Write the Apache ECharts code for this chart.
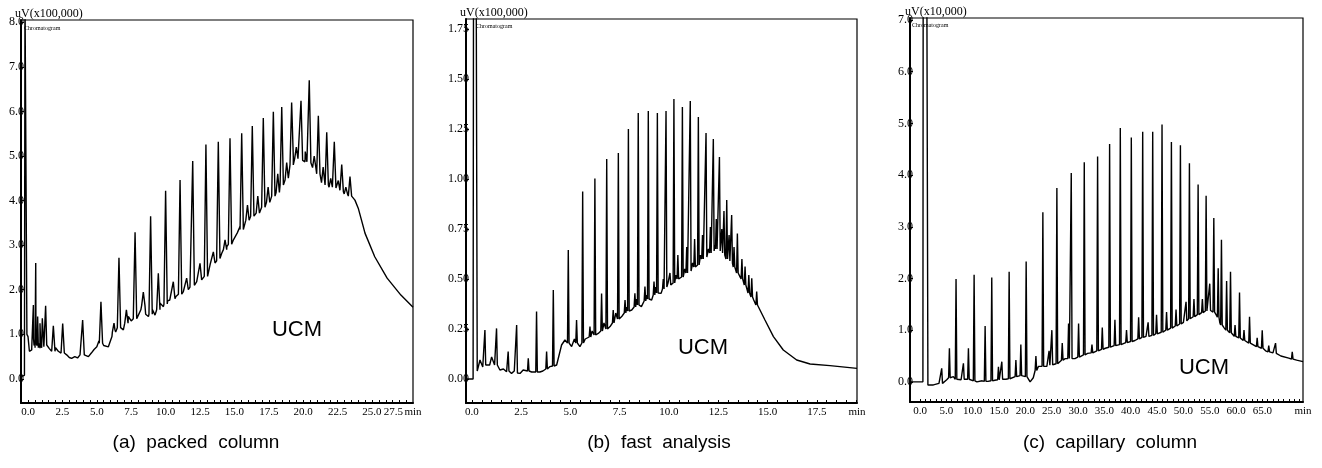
<!DOCTYPE html>
<html>
<head>
<meta charset="utf-8">
<script src="https://cdn.jsdelivr.net/npm/echarts@6/dist/echarts.min.js"></script>
<style>
  html, body { margin: 0; padding: 0; background: #fff; }
  #chromChart { width: 1322px; height: 468px; }
</style>
</head>
<body>
<div id="chromChart"></div>
<script>
// (a) packed column : [min, uV x100,000]
const aBaseline = [
  [-0.51, 0.05], [-0.26, 0.08], [-0.22, 8.6], [-0.12, 8.6], [-0.08, 1.0], [0.0, 0.95], [0.1, 0.62],
  [0.27, 0.65], [0.4, 0.9], [0.51, 0.8], [0.65, 0.75], [0.87, 0.69], [1.0, 0.85], [1.15, 0.72],
  [1.36, 0.76], [1.55, 0.68], [1.84, 0.61], [2.0, 0.7], [2.2, 0.62], [2.5, 0.6], [2.81, 0.54],
  [3.0, 0.48], [3.17, 0.46], [3.4, 0.5], [3.6, 0.47], [3.78, 0.54], [4.2, 0.52], [4.39, 0.5],
  [4.6, 0.58], [4.8, 0.66], [5.0, 0.72], [5.15, 0.85], [5.5, 0.75], [5.84, 0.72], [6.1, 0.95],
  [6.32, 1.1], [6.5, 1.15], [6.8, 1.12], [6.93, 1.1], [7.1, 1.25], [7.29, 1.4], [7.5, 1.3],
  [7.65, 1.35], [8.02, 1.43], [8.2, 1.55], [8.55, 1.45], [8.75, 1.4], [9.05, 1.55], [9.23, 1.43],
  [9.6, 1.7], [9.84, 1.62], [10.15, 1.75], [10.3, 1.77], [10.75, 1.85], [11.29, 1.96], [11.77, 2.06],
  [12.26, 2.18], [12.74, 2.26], [13.23, 2.56], [13.71, 2.65], [14.08, 2.82], [14.45, 2.97],
  [14.93, 3.12], [15.2, 3.27], [15.4, 3.41], [15.9, 3.56], [16.62, 3.71], [17.35, 3.94], [18.07, 4.16],
  [18.68, 4.46], [19.0, 4.7], [19.28, 4.98], [19.65, 4.91], [20.13, 4.87], [20.74, 4.76], [21.34, 4.42],
  [21.95, 4.31], [22.43, 4.24], [23.04, 4.16], [23.76, 4.01], [24.0, 3.83], [24.37, 3.41], [24.49, 3.27],
  [25.2, 2.74], [26.1, 2.26], [27.1, 1.88], [27.98, 1.61],
];
// [time, top, foot]
const aPeaks = [
  [0.39, 1.66, 0.7], [0.56, 2.6, 0.75], [0.7, 1.4, 0.8], [0.87, 1.25, 0.7], [1.04, 1.36, 0.78],
  [1.28, 1.64, 0.74], [1.84, 1.19, 0.62], [2.52, 1.24, 0.58], [3.97, 1.32, 0.54], [5.3, 1.73, 0.8],
  [6.25, 1.25, 1.05], [6.61, 2.72, 1.15], [7.15, 1.55, 1.25], [7.78, 3.29, 1.35], [8.38, 1.95, 1.65],
  [8.91, 3.65, 1.45], [9.47, 2.37, 1.55], [10.0, 4.22, 1.68], [10.56, 2.18, 1.8], [11.05, 4.46, 1.9],
  [11.53, 2.26, 2.0], [11.97, 4.89, 2.1], [12.5, 2.59, 2.22], [12.93, 5.26, 2.3], [13.47, 2.85, 2.6],
  [13.83, 5.32, 2.7], [14.32, 3.12, 2.9], [14.68, 5.4, 3.02], [15.53, 5.51, 3.35], [15.95, 3.9, 3.56],
  [16.3, 5.67, 3.65], [16.7, 4.1, 3.72], [17.1, 5.85, 3.85], [17.45, 4.3, 3.96], [17.83, 5.99, 4.1],
  [18.15, 4.6, 4.18], [18.44, 6.1, 4.35], [18.8, 4.85, 4.5], [19.16, 6.2, 4.8], [19.5, 5.2, 4.94],
  [19.84, 6.24, 4.9], [20.15, 5.1, 4.87], [20.44, 6.7, 4.85], [20.8, 5.0, 4.74], [21.1, 5.9, 4.6],
  [21.45, 4.75, 4.4], [21.71, 5.53, 4.35], [22.0, 4.5, 4.3], [22.26, 5.32, 4.28], [22.55, 4.45, 4.23],
  [22.8, 4.81, 4.2], [23.1, 4.3, 4.15], [23.4, 4.54, 4.1],
];

// (b) fast analysis
const bBaseline = [
  [-0.3, 0.0], [0.06, 0.0], [0.08, 1.9], [0.22, 1.9], [0.27, 0.04], [0.41, 0.095], [0.55, 0.06],
  [0.74, 0.078], [0.9, 0.07], [1.0, 0.11], [1.15, 0.07], [1.42, 0.045], [1.6, 0.05], [1.76, 0.036],
  [2.01, 0.028], [2.15, 0.04], [2.44, 0.028], [2.6, 0.045], [3.03, 0.035], [3.45, 0.035], [3.6, 0.04],
  [3.96, 0.062], [4.3, 0.07], [4.55, 0.17], [4.72, 0.195], [5.06, 0.162], [5.2, 0.2], [5.48, 0.162],
  [5.75, 0.2], [6.1, 0.24], [6.41, 0.228], [6.7, 0.28], [7.01, 0.262], [7.3, 0.33], [7.6, 0.312],
  [7.85, 0.36], [8.11, 0.345], [8.35, 0.4], [8.6, 0.362], [8.87, 0.42], [9.12, 0.395], [9.32, 0.46],
  [9.6, 0.428], [9.95, 0.48], [10.15, 0.462], [10.35, 0.52], [10.55, 0.495], [10.8, 0.55], [10.98, 0.528],
  [11.2, 0.58], [11.4, 0.562], [11.6, 0.62], [11.8, 0.595], [12.0, 0.65], [12.18, 0.628], [12.33, 0.67],
  [12.48, 0.653], [12.62, 0.645], [12.86, 0.62], [13.0, 0.61], [13.12, 0.6], [13.25, 0.578], [13.4, 0.56],
  [13.6, 0.512], [13.78, 0.49], [13.95, 0.462], [14.12, 0.43], [14.3, 0.395], [14.54, 0.362],
  [14.87, 0.295], [15.3, 0.212], [15.8, 0.145], [16.48, 0.095], [17.16, 0.075], [18.17, 0.067],
  [19.54, 0.053],
];
const bPeaks = [
  [0.66, 0.245, 0.07], [1.25, 0.253, 0.07], [1.84, 0.137, 0.04], [2.27, 0.27, 0.03], [2.86, 0.103, 0.04],
  [3.28, 0.337, 0.035], [3.79, 0.137, 0.05], [4.13, 0.445, 0.065], [4.89, 0.645, 0.18], [5.31, 0.295, 0.18],
  [5.62, 0.937, 0.18], [5.99, 0.262, 0.21], [6.24, 1.003, 0.22], [6.58, 0.428, 0.24], [6.84, 1.1, 0.25],
  [7.17, 0.345, 0.28], [7.43, 1.13, 0.3], [7.77, 0.395, 0.33], [7.94, 1.25, 0.34], [8.27, 0.428, 0.36],
  [8.44, 1.33, 0.37], [8.78, 0.462, 0.39], [8.95, 1.34, 0.4], [9.24, 0.487, 0.42], [9.41, 1.33, 0.43],
  [9.71, 0.5, 0.45], [9.85, 1.34, 0.46], [10.05, 0.53, 0.47], [10.25, 1.4, 0.48], [10.45, 0.62, 0.5],
  [10.68, 1.36, 0.51], [10.9, 0.66, 0.53], [11.08, 1.39, 0.54], [11.3, 0.7, 0.56], [11.49, 1.31, 0.57],
  [11.7, 0.72, 0.6], [11.88, 1.23, 0.61], [12.1, 0.76, 0.63], [12.25, 1.2, 0.64], [12.4, 0.8, 0.65],
  [12.56, 1.11, 0.64], [12.68, 0.75, 0.63], [12.79, 0.84, 0.62], [12.93, 0.895, 0.6], [13.05, 0.72, 0.59],
  [13.18, 0.82, 0.58], [13.3, 0.66, 0.56], [13.47, 0.728, 0.53], [13.7, 0.6, 0.5], [13.86, 0.562, 0.47],
  [14.05, 0.52, 0.43], [14.2, 0.503, 0.41], [14.45, 0.437, 0.37],
];

// (c) capillary column : [min, uV x10,000]
const cBaseline = [
  [-1.9, 0.0], [0.55, 0.0], [0.6, 7.6], [1.3, 7.6], [1.5, -0.06], [2.54, -0.06], [3.6, -0.03],
  [4.6, -0.02], [5.07, 0.04], [5.9, 0.1], [6.34, 0.1], [7.29, 0.02], [7.8, 0.04], [8.7, 0.06],
  [9.6, 0.05], [10.8, 0.0], [11.8, 0.02], [12.9, 0.01], [14.2, 0.03], [15.1, 0.06], [16.3, 0.05],
  [17.4, 0.07], [18.7, 0.1], [19.6, 0.15], [20.9, 0.0], [21.5, 0.08], [22.5, 0.3], [24.08, 0.3],
  [25.5, 0.35], [26.5, 0.38], [27.57, 0.45], [29.4, 0.45], [30.6, 0.5], [31.8, 0.55], [33.0, 0.57],
  [34.2, 0.62], [35.17, 0.65], [36.5, 0.68], [37.5, 0.72], [38.6, 0.74], [39.6, 0.77], [40.8, 0.8],
  [41.8, 0.85], [42.9, 0.88], [43.7, 0.9], [45.4, 0.95], [46.4, 0.99], [47.2, 1.02], [48.2, 1.06],
  [49.0, 1.1], [50.0, 1.15], [51.6, 1.25], [52.4, 1.28], [53.2, 1.32], [54.0, 1.36], [54.8, 1.38],
  [55.4, 1.37], [56.2, 1.3], [56.9, 1.15], [57.7, 1.05], [58.6, 0.97], [59.3, 0.92], [60.2, 0.86],
  [61.1, 0.82], [62.0, 0.78], [63.2, 0.72], [64.5, 0.66], [65.6, 0.6], [67.0, 0.56], [68.5, 0.5],
  [70.0, 0.46], [71.5, 0.42], [72.7, 0.39],
];
const cPeaks = [
  [4.12, 0.26, -0.03], [5.58, 0.65, 0.08], [6.84, 1.99, 0.05], [8.24, 0.36, 0.05], [9.19, 0.65, 0.05],
  [10.27, 2.07, 0.02], [12.36, 1.08, 0.01], [13.62, 2.02, 0.02], [14.89, 0.29, 0.04], [15.53, 0.39, 0.05],
  [16.92, 2.13, 0.06], [18.2, 0.42, 0.1], [19.14, 0.72, 0.12], [20.15, 2.33, 0.1], [22.0, 0.5, 0.22],
  [23.32, 3.28, 0.3], [24.5, 0.6, 0.32], [25.03, 1.0, 0.33], [25.98, 3.75, 0.35], [27.0, 0.75, 0.42],
  [28.2, 1.13, 0.45], [28.71, 4.04, 0.45], [30.1, 1.13, 0.48], [31.18, 4.25, 0.52], [32.64, 0.72, 0.56],
  [33.71, 4.36, 0.6], [34.6, 1.05, 0.63], [35.99, 4.6, 0.67], [37.0, 1.2, 0.7], [38.02, 4.91, 0.72],
  [39.2, 1.0, 0.76], [40.11, 4.73, 0.78], [41.5, 1.25, 0.83], [42.27, 4.84, 0.86], [43.3, 1.15, 0.88],
  [44.17, 4.84, 0.9], [44.9, 1.3, 0.93], [45.94, 4.98, 0.96], [46.8, 1.35, 1.0], [47.72, 4.64, 1.04],
  [48.6, 1.4, 1.08], [49.43, 4.58, 1.12], [50.5, 1.55, 1.18], [51.14, 4.23, 1.22], [52.0, 1.6, 1.26],
  [52.79, 3.82, 1.3], [53.6, 1.6, 1.34], [54.31, 3.6, 1.37], [55.0, 1.9, 1.38], [55.77, 3.17, 1.35],
  [56.6, 2.2, 1.25], [57.22, 2.75, 1.1], [58.2, 1.95, 1.0], [58.94, 2.13, 0.95], [59.8, 1.1, 0.88],
  [60.65, 1.73, 0.85], [61.5, 1.0, 0.8], [62.55, 1.26, 0.75], [64.0, 0.85, 0.68], [64.96, 1.0, 0.65],
  [66.2, 0.7, 0.58], [67.49, 0.75, 0.55], [70.66, 0.58, 0.44],
];

// tick labels
const aTicksX = [0, 2.5, 5, 7.5, 10, 12.5, 15, 17.5, 20, 22.5, 25, 27.5];
const bTicksX = [0, 2.5, 5, 7.5, 10, 12.5, 15, 17.5];
const cTicksX = [0, 5, 10, 15, 20, 25, 30, 35, 40, 45, 50, 55, 60, 65];
const aTicksY = [0, 1, 2, 3, 4, 5, 6, 7, 8];
const bTicksY = [0, 0.25, 0.5, 0.75, 1, 1.25, 1.5, 1.75];
const cTicksY = [0, 1, 2, 3, 4, 5, 6, 7];

const captions = ['(a)  packed  column', '(b)  fast  analysis', '(c)  capillary  column'];
const units = ['uV(x100,000)', 'uV(x100,000)', 'uV(x10,000)'];

const SERIF = '"Liberation Serif", "DejaVu Serif", serif';
const SANS = '"Liberation Sans", Arial, sans-serif';

let myChart = null;

function buildTrace(base, peaks, halfWidth) {
  const pts = base.map((p) => [p[0], p[1]]);
  peaks.forEach(([t, top, foot]) => {
    pts.push([t - halfWidth, foot], [t, top], [t + halfWidth, foot]);
  });
  pts.sort((a, b) => a[0] - b[0]);
  return pts;
}

function minorTicks(from, to, step) {
  const out = [];
  for (let v = from; v <= to + 1e-9; v += step) out.push(Math.round(v * 100) / 100);
  return out;
}

function xAxisOf(idx, min, max, labels, minor, digits, lastShift) {
  return {
    type: 'value',
    gridIndex: idx,
    min,
    max,
    name: 'min',
    nameLocation: 'end',
    nameGap: 0,
    nameMoveOverlap: false,
    nameTextStyle: {
      fontFamily: SERIF, fontSize: 11, color: '#000',
      align: 'center', verticalAlign: 'top', padding: [4, 0, 0, 0],
    },
    axisLine: { show: true, onZero: false, lineStyle: { color: '#000', width: 2 } },
    axisTick: { show: true, inside: true, length: 3, customValues: minor, lineStyle: { color: '#000', width: 1 } },
    splitLine: { show: false },
    axisLabel: {
      customValues: labels,
      showMinLabel: true,
      showMaxLabel: true,
      hideOverlap: false,
      margin: 4,
      fontFamily: SERIF,
      fontSize: 11,
      color: '#000',
      // the last label is nudged left so it clears the "min" unit
      formatter: (v) => (lastShift && v === labels[labels.length - 1]
        ? '{s|' + v.toFixed(digits) + '}' : v.toFixed(digits)),
      rich: { s: { fontFamily: SERIF, fontSize: 11, color: '#000', padding: [0, 26, 0, 0] } },
    },
  };
}

function yAxisOf(idx, min, max, labels, digits) {
  return {
    type: 'value',
    gridIndex: idx,
    min,
    max,
    axisLine: { show: true, onZero: false, lineStyle: { color: '#000', width: 2 } },
    axisTick: { show: true, inside: true, length: 3, customValues: labels, lineStyle: { color: '#000' } },
    splitLine: { show: false },
    axisLabel: {
      customValues: labels,
      showMinLabel: true,
      showMaxLabel: true,
      margin: -3,
      fontFamily: SERIF,
      fontSize: 12,
      color: '#000',
      formatter: (v) => v.toFixed(digits),
    },
  };
}

function traceSeries(idx, data) {
  return {
    type: 'line',
    xAxisIndex: idx,
    yAxisIndex: idx,
    data,
    symbol: 'none',
    showSymbol: false,
    clip: true,
    lineStyle: { color: '#000', width: 1.4 },
    z: 3,
  };
}

function initChart() {
  const dom = document.getElementById('chromChart');
  if (dom) {
    myChart = echarts.init(dom, null, { renderer: 'canvas' });
    setOption();
  }
}

function setOption() {
  const grids = [
    { left: 21, top: 20, width: 392, height: 383 },
    { left: 466, top: 19, width: 391, height: 384 },
    { left: 910, top: 18, width: 393, height: 384 },
  ];
  const text = (x, y, str, size, family, align) => ({
    type: 'text',
    x, y,
    style: { text: str, fill: '#000', font: size + 'px ' + family, align: align || 'left', verticalAlign: 'middle' },
    z: 10,
  });
  const options = {
    animation: false,
    backgroundColor: '#fff',
    grid: grids.map((g) => ({ ...g, show: true, borderColor: '#000', borderWidth: 1.2, backgroundColor: 'transparent' })),
    xAxis: [
      xAxisOf(0, -0.51, 27.98, aTicksX, minorTicks(0, 27.5, 0.5), 1, true),
      xAxisOf(1, -0.3, 19.54, bTicksX, minorTicks(0, 19.5, 0.5), 1, false),
      xAxisOf(2, -1.9, 72.7, cTicksX, minorTicks(0, 72, 1), 1, false),
    ],
    yAxis: [
      yAxisOf(0, -0.54, 8.05, aTicksY, 1),
      yAxisOf(1, -0.12, 1.8, bTicksY, 2),
      yAxisOf(2, -0.39, 7.04, cTicksY, 1),
    ],
    series: [
      traceSeries(0, buildTrace(aBaseline, aPeaks, 0.12)),
      traceSeries(1, buildTrace(bBaseline, bPeaks, 0.04)),
      traceSeries(2, buildTrace(cBaseline, cPeaks, 0.15)),
    ],
    graphic: [
      text(15, 14, units[0], 12, SERIF),
      text(460, 13, units[1], 12, SERIF),
      text(905, 12, units[2], 12, SERIF),
      text(24, 28, 'Chromatogram', 6, SERIF),
      text(476, 26, 'Chromatogram', 6, SERIF),
      text(912, 25, 'Chromatogram', 6, SERIF),
      text(297, 330, 'UCM', 22, SANS, 'center'),
      text(703, 348, 'UCM', 22, SANS, 'center'),
      text(1204, 368, 'UCM', 22, SANS, 'center'),
      text(196, 443, captions[0], 19, SANS, 'center'),
      text(659, 443, captions[1], 19, SANS, 'center'),
      text(1110, 443, captions[2], 19, SANS, 'center'),
    ],
  };
  if (myChart) {
    myChart.setOption(options);
  }
}

initChart();
</script>
</body>
</html>
